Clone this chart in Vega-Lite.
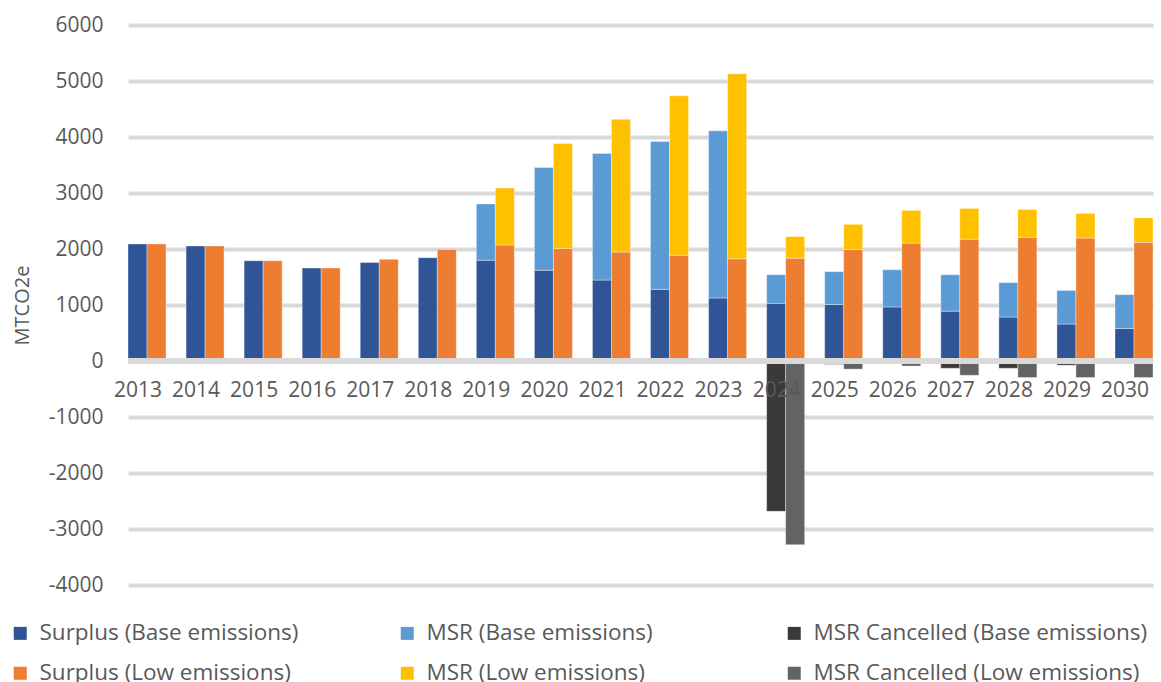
{
  "$schema": "https://vega.github.io/schema/vega-lite/v6.json",
  "width": 1025,
  "height": 560,
  "autosize": {"type": "none"},
  "padding": {"left": 128, "top": 25, "right": 8, "bottom": 97},
  "background": "white",
  "config": {"view": {"stroke": null}, "font": "Open Sans"},
  "data": {
    "values": [
      {"year": "2013", "scenario": "Base", "series": "Surplus (Base emissions)", "value": 2090},
      {"year": "2014", "scenario": "Base", "series": "Surplus (Base emissions)", "value": 2055},
      {"year": "2015", "scenario": "Base", "series": "Surplus (Base emissions)", "value": 1790},
      {"year": "2016", "scenario": "Base", "series": "Surplus (Base emissions)", "value": 1660},
      {"year": "2017", "scenario": "Base", "series": "Surplus (Base emissions)", "value": 1760},
      {"year": "2018", "scenario": "Base", "series": "Surplus (Base emissions)", "value": 1845},
      {"year": "2019", "scenario": "Base", "series": "Surplus (Base emissions)", "value": 1800},
      {"year": "2020", "scenario": "Base", "series": "Surplus (Base emissions)", "value": 1620},
      {"year": "2021", "scenario": "Base", "series": "Surplus (Base emissions)", "value": 1445},
      {"year": "2022", "scenario": "Base", "series": "Surplus (Base emissions)", "value": 1280},
      {"year": "2023", "scenario": "Base", "series": "Surplus (Base emissions)", "value": 1125},
      {"year": "2024", "scenario": "Base", "series": "Surplus (Base emissions)", "value": 1030},
      {"year": "2025", "scenario": "Base", "series": "Surplus (Base emissions)", "value": 1010},
      {"year": "2026", "scenario": "Base", "series": "Surplus (Base emissions)", "value": 965},
      {"year": "2027", "scenario": "Base", "series": "Surplus (Base emissions)", "value": 890},
      {"year": "2028", "scenario": "Base", "series": "Surplus (Base emissions)", "value": 785},
      {"year": "2029", "scenario": "Base", "series": "Surplus (Base emissions)", "value": 660},
      {"year": "2030", "scenario": "Base", "series": "Surplus (Base emissions)", "value": 580},
      {"year": "2019", "scenario": "Base", "series": "MSR (Base emissions)", "value": 1005},
      {"year": "2020", "scenario": "Base", "series": "MSR (Base emissions)", "value": 1835},
      {"year": "2021", "scenario": "Base", "series": "MSR (Base emissions)", "value": 2260},
      {"year": "2022", "scenario": "Base", "series": "MSR (Base emissions)", "value": 2640},
      {"year": "2023", "scenario": "Base", "series": "MSR (Base emissions)", "value": 2985},
      {"year": "2024", "scenario": "Base", "series": "MSR (Base emissions)", "value": 510},
      {"year": "2025", "scenario": "Base", "series": "MSR (Base emissions)", "value": 585},
      {"year": "2026", "scenario": "Base", "series": "MSR (Base emissions)", "value": 665},
      {"year": "2027", "scenario": "Base", "series": "MSR (Base emissions)", "value": 650},
      {"year": "2028", "scenario": "Base", "series": "MSR (Base emissions)", "value": 615},
      {"year": "2029", "scenario": "Base", "series": "MSR (Base emissions)", "value": 600},
      {"year": "2030", "scenario": "Base", "series": "MSR (Base emissions)", "value": 605},
      {"year": "2024", "scenario": "Base", "series": "MSR Cancelled (Base emissions)", "value": -2685},
      {"year": "2025", "scenario": "Base", "series": "MSR Cancelled (Base emissions)", "value": -60},
      {"year": "2027", "scenario": "Base", "series": "MSR Cancelled (Base emissions)", "value": -130},
      {"year": "2028", "scenario": "Base", "series": "MSR Cancelled (Base emissions)", "value": -130},
      {"year": "2029", "scenario": "Base", "series": "MSR Cancelled (Base emissions)", "value": -75},
      {"year": "2013", "scenario": "Low", "series": "Surplus (Low emissions)", "value": 2090},
      {"year": "2014", "scenario": "Low", "series": "Surplus (Low emissions)", "value": 2055},
      {"year": "2015", "scenario": "Low", "series": "Surplus (Low emissions)", "value": 1790},
      {"year": "2016", "scenario": "Low", "series": "Surplus (Low emissions)", "value": 1660},
      {"year": "2017", "scenario": "Low", "series": "Surplus (Low emissions)", "value": 1815},
      {"year": "2018", "scenario": "Low", "series": "Surplus (Low emissions)", "value": 1990},
      {"year": "2019", "scenario": "Low", "series": "Surplus (Low emissions)", "value": 2070},
      {"year": "2020", "scenario": "Low", "series": "Surplus (Low emissions)", "value": 2010},
      {"year": "2021", "scenario": "Low", "series": "Surplus (Low emissions)", "value": 1945},
      {"year": "2022", "scenario": "Low", "series": "Surplus (Low emissions)", "value": 1890},
      {"year": "2023", "scenario": "Low", "series": "Surplus (Low emissions)", "value": 1825},
      {"year": "2024", "scenario": "Low", "series": "Surplus (Low emissions)", "value": 1837},
      {"year": "2025", "scenario": "Low", "series": "Surplus (Low emissions)", "value": 1990},
      {"year": "2026", "scenario": "Low", "series": "Surplus (Low emissions)", "value": 2105},
      {"year": "2027", "scenario": "Low", "series": "Surplus (Low emissions)", "value": 2175},
      {"year": "2028", "scenario": "Low", "series": "Surplus (Low emissions)", "value": 2210},
      {"year": "2029", "scenario": "Low", "series": "Surplus (Low emissions)", "value": 2195},
      {"year": "2030", "scenario": "Low", "series": "Surplus (Low emissions)", "value": 2120},
      {"year": "2019", "scenario": "Low", "series": "MSR (Low emissions)", "value": 1020},
      {"year": "2020", "scenario": "Low", "series": "MSR (Low emissions)", "value": 1875},
      {"year": "2021", "scenario": "Low", "series": "MSR (Low emissions)", "value": 2370},
      {"year": "2022", "scenario": "Low", "series": "MSR (Low emissions)", "value": 2845},
      {"year": "2023", "scenario": "Low", "series": "MSR (Low emissions)", "value": 3305},
      {"year": "2024", "scenario": "Low", "series": "MSR (Low emissions)", "value": 385},
      {"year": "2025", "scenario": "Low", "series": "MSR (Low emissions)", "value": 450},
      {"year": "2026", "scenario": "Low", "series": "MSR (Low emissions)", "value": 585},
      {"year": "2027", "scenario": "Low", "series": "MSR (Low emissions)", "value": 550},
      {"year": "2028", "scenario": "Low", "series": "MSR (Low emissions)", "value": 495},
      {"year": "2029", "scenario": "Low", "series": "MSR (Low emissions)", "value": 440},
      {"year": "2030", "scenario": "Low", "series": "MSR (Low emissions)", "value": 435},
      {"year": "2024", "scenario": "Low", "series": "MSR Cancelled (Low emissions)", "value": -3280},
      {"year": "2025", "scenario": "Low", "series": "MSR Cancelled (Low emissions)", "value": -145},
      {"year": "2026", "scenario": "Low", "series": "MSR Cancelled (Low emissions)", "value": -90},
      {"year": "2027", "scenario": "Low", "series": "MSR Cancelled (Low emissions)", "value": -255},
      {"year": "2028", "scenario": "Low", "series": "MSR Cancelled (Low emissions)", "value": -295},
      {"year": "2029", "scenario": "Low", "series": "MSR Cancelled (Low emissions)", "value": -295},
      {"year": "2030", "scenario": "Low", "series": "MSR Cancelled (Low emissions)", "value": -295}
    ]
  },
  "layer": [
    {
      "mark": {"type": "bar", "stroke": "#ffffff", "strokeWidth": 0.6, "strokeOpacity": 0.6},
      "encoding": {
        "x": {
          "field": "year",
          "type": "nominal",
          "scale": {"paddingInner": 0.345, "paddingOuter": 0},
          "axis": {
            "title": null,
            "labelAngle": 0,
            "offset": -223,
            "domain": false,
            "ticks": false,
            "grid": false,
            "labelPadding": 17,
            "labelOffset": -9,
            "labelFontSize": 21,
            "labelColor": "#595959",
            "zindex": 1
          }
        },
        "xOffset": {
          "field": "scenario",
          "type": "nominal",
          "sort": ["Base", "Low"],
          "scale": {"paddingInner": 0, "paddingOuter": 0}
        },
        "y": {
          "field": "value",
          "type": "quantitative",
          "stack": "zero",
          "scale": {"domain": [-4000, 6000], "nice": false},
          "axis": {
            "title": "MTCO2e",
            "values": [-4000, -3000, -2000, -1000, 0, 1000, 2000, 3000, 4000, 5000, 6000],
            "labelExpr": "'' + datum.value",
            "domain": false,
            "ticks": false,
            "labelPadding": 25,
            "labelFontSize": 21,
            "labelColor": "#595959",
            "gridColor": "#d9d9d9",
            "gridWidth": 4,
            "titleFontSize": 20,
            "titleFontWeight": "normal",
            "titleColor": "#595959",
            "titlePadding": 16
          }
        },
        "color": {
          "field": "series",
          "type": "nominal",
          "sort": ["Surplus (Base emissions)", "MSR (Base emissions)", "MSR Cancelled (Base emissions)", "Surplus (Low emissions)", "MSR (Low emissions)", "MSR Cancelled (Low emissions)"],
          "scale": {
            "domain": ["Surplus (Base emissions)", "MSR (Base emissions)", "MSR Cancelled (Base emissions)", "Surplus (Low emissions)", "MSR (Low emissions)", "MSR Cancelled (Low emissions)"],
            "range": ["#2F5597", "#5B9BD5", "#3A3A38", "#ED7D31", "#FFC000", "#636363"]
          },
          "legend": {
            "title": null,
            "orient": "none",
            "legendX": -119,
            "legendY": 597,
            "direction": "horizontal",
            "columns": 3,
            "gridAlign": "all",
            "columnPadding": 22,
            "rowPadding": 17,
            "symbolType": "square",
            "symbolSize": 169,
            "symbolStrokeWidth": 0,
            "labelFontSize": 22.5,
            "labelColor": "#595959",
            "labelLimit": 400,
            "labelOffset": 8
          }
        }
      }
    },
    {
      "mark": {"type": "rule", "color": "#d9d9d9", "strokeWidth": 5},
      "encoding": {"y": {"datum": 0}}
    }
  ]
}
